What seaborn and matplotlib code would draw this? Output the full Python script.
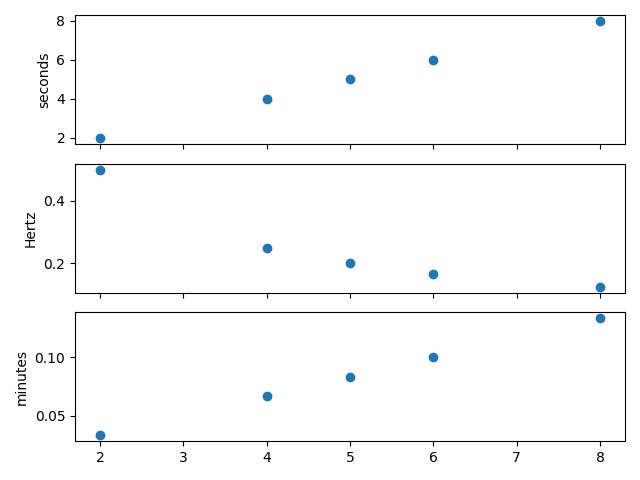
import numpy as np
import pandas as pd
import seaborn as sns
import matplotlib
matplotlib.use("Agg")
import matplotlib.pyplot as plt

# values
x_vals = [2, 4, 5, 6, 8]
seconds = [2, 4, 5, 6, 8]
hertz = [0.5, 0.25, 0.2, 0.1667, 0.125]
minutes = [0.0333, 0.0667, 0.0833, 0.1, 0.1333]

df = pd.DataFrame({'x': x_vals, 'seconds': seconds, 'Hertz': hertz, 'minutes': minutes})

fig, axes = plt.subplots(3, 1, sharex=True, figsize=(6.4, 4.8), dpi=100)

for ax, col in zip(axes, ['seconds', 'Hertz', 'minutes']):
    sns.scatterplot(x='x', y=col, data=df, ax=ax, color='#1f77b4',
                    edgecolor='#1f77b4', linewidth=1, s=36)
    ax.set_ylabel(col)
    ax.set_xlabel('')

fig.tight_layout()
fig.savefig('out.png')
